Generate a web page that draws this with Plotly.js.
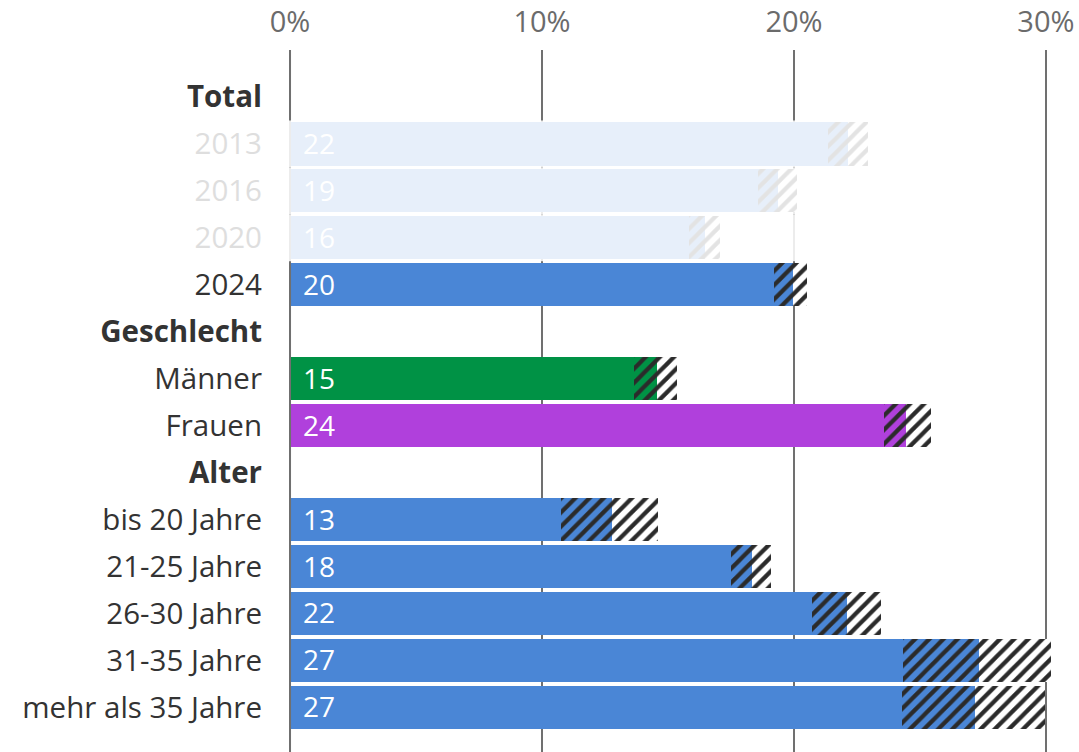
<!DOCTYPE html>
<html>
<head>
<meta charset="utf-8">
<script src="https://cdn.plot.ly/plotly-3.0.1.min.js"></script>
<style>html,body{margin:0;padding:0;background:#fff;}#chart{width:1079px;height:752px;}</style>
</head>
<body>
<div id="chart"></div>
<script>
// Rows shown on the y axis (headers have no bar)
const rows = ['Total','2013','2016','2020','2024','Geschlecht','Männer','Frauen','Alter',
  'bis 20 Jahre','21-25 Jahre','26-30 Jahre','31-35 Jahre','mehr als 35 Jahre'];
const headers = ['Total','Geschlecht','Alter'];
const fadedRows = ['2013','2016','2020'];

// Bar categories and values (%)
const categories = ['2013','2016','2020','2024','Männer','Frauen',
  'bis 20 Jahre','21-25 Jahre','26-30 Jahre','31-35 Jahre','mehr als 35 Jahre'];
const ciLow    = [21.35, 18.57, 15.85, 19.20, 13.65, 23.58, 10.75, 17.50, 20.70, 24.34, 24.27];
const estimate = [22.14, 19.37, 16.45, 19.98, 14.55, 24.45, 12.76, 18.32, 22.12, 27.35, 27.18];
const ciHigh   = [22.94, 20.12, 17.05, 20.50, 15.37, 25.44, 14.62, 19.09, 23.44, 30.22, 29.96];
const shown    = [22, 19, 16, 20, 15, 24, 13, 18, 22, 27, 27];
const groupOf  = ['blue','blue','blue','blue','green','purple','blue','blue','blue','blue','blue'];

const xTicks = [0, 10, 20, 30];
const xTickText = ['0%', '10%', '20%', '30%'];

const palette = {blue: '#4a86d6', green: '#009245', purple: '#b040dc'};
const barColors = groupOf.map(g => palette[g]);
const hatchDark = '#2b2b2b';

const traces = [];
traces.push({
  type: 'bar', orientation: 'h', y: categories, x: ciLow,
  marker: {color: barColors, line: {width: 0}},
  hoverinfo: 'skip', showlegend: false
});
// hatched part between lower bound and estimate, one trace per colour
Object.keys(palette).forEach(g => {
  const idx = categories.map((c, i) => i).filter(i => groupOf[i] === g);
  traces.push({
    type: 'bar', orientation: 'h',
    y: idx.map(i => categories[i]),
    x: idx.map(i => estimate[i] - ciLow[i]),
    marker: {color: palette[g], line: {width: 0},
      pattern: {shape: '/', fgcolor: hatchDark, bgcolor: palette[g], size: 10, solidity: 0.42, fillmode: 'replace'}},
    hoverinfo: 'skip', showlegend: false
  });
});
// hatched part between estimate and upper bound
traces.push({
  type: 'bar', orientation: 'h', y: categories,
  x: ciHigh.map((h, i) => h - estimate[i]),
  marker: {color: '#ffffff', line: {width: 0},
    pattern: {shape: '/', fgcolor: hatchDark, bgcolor: '#ffffff', size: 10, solidity: 0.42, fillmode: 'replace'}},
  hoverinfo: 'skip', showlegend: false
});

const tickText = rows.map(r => {
  if (headers.includes(r)) return '<b>' + r + '</b>';
  if (fadedRows.includes(r)) return '<span style="color:#dedede">' + r + '</span>';
  return r;
});

const shapes = [{
  type: 'line', xref: 'x', yref: 'paper', x0: 0, x1: 0, y0: 0, y1: 1,
  line: {color: '#707070', width: 2}, layer: 'above'
}];
const hi2024 = ciHigh[categories.indexOf('2024')];
fadedRows.forEach(r => {
  const i = categories.indexOf(r);
  const k = rows.indexOf(r);
  shapes.push({
    type: 'rect', xref: 'x', yref: 'y',
    x0: -0.08, x1: Math.max(ciHigh[i], hi2024) + 0.05,
    y0: k - 0.5, y1: k + 0.5,
    fillcolor: 'rgba(255,255,255,0.87)', line: {width: 0}, layer: 'above'
  });
});

const annotations = categories.map((c, i) => ({
  x: 0, y: rows.indexOf(c), xref: 'x', yref: 'y', text: String(shown[i]),
  showarrow: false, xanchor: 'left', xshift: 11, yshift: 1,
  font: {color: '#ffffff', size: 28, family: 'Open Sans'}
}));

const layout = {
  width: 1079, height: 752,
  margin: {l: 288, r: 23, t: 50, b: 0},
  paper_bgcolor: '#ffffff', plot_bgcolor: '#ffffff',
  font: {family: 'Open Sans, Noto Sans, sans-serif'},
  barmode: 'stack', bargap: 0.08,
  xaxis: {
    side: 'top', range: [-0.08, 30.4],
    tickvals: xTicks, ticktext: xTickText,
    showgrid: true, gridcolor: '#707070', gridwidth: 2,
    zeroline: false, showline: false, ticks: '',
    ticklabelstandoff: 11,
    tickfont: {size: 29, color: '#6b6b6b'}
  },
  yaxis: {
    type: 'category', categoryorder: 'array', categoryarray: rows,
    range: [13.95, -1.0],
    tickvals: rows, ticktext: tickText,
    showgrid: false, zeroline: false, showline: false, ticks: '',
    ticklabelstandoff: 25,
    tickfont: {size: 29.5, color: '#333333'}
  },
  shapes: shapes,
  annotations: annotations
};

Plotly.newPlot('chart', traces, layout, {displayModeBar: false, staticPlot: true});
</script>
</body>
</html>
